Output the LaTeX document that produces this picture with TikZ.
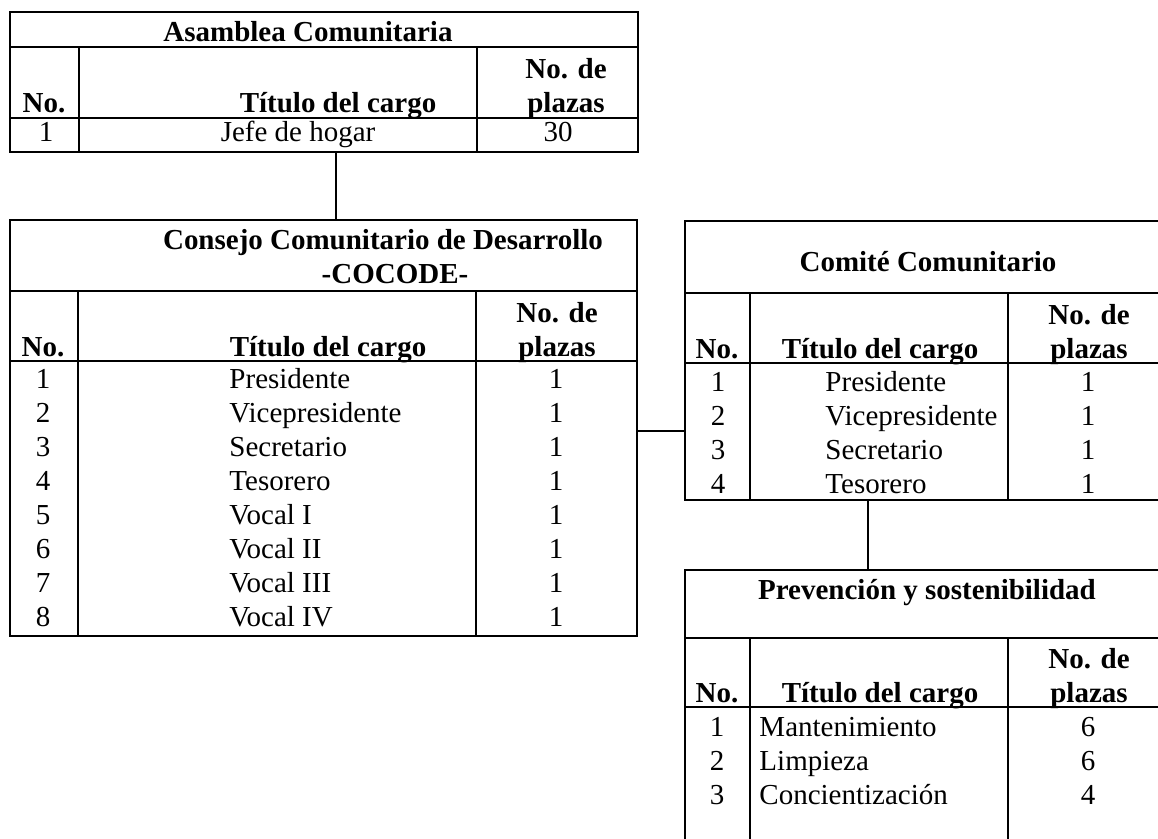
\documentclass[tikz,border=0pt]{standalone}
\usepackage{fontspec}
\setmainfont{Liberation Serif}

\begin{document}
\begin{tikzpicture}[x=0.414pt, y=-0.414pt,
  rule/.style={line width=0.8pt},
  link/.style={line width=0.8pt},
  hd/.style={font=\fontsize{12}{14}\selectfont\bfseries, inner sep=0pt, anchor=base},
  cell/.style={font=\fontsize{12}{14}\selectfont, inner sep=0pt, anchor=base},
  cellw/.style={cell, anchor=base west}]
\useasboundingbox (0,0) rectangle (1158,838);
\clip (0,0) rectangle (1158,838);

% Asamblea Comunitaria
\draw[rule] (10,12) rectangle (638,152);
\draw[rule] (10,47) -- (638,47) (10,118) -- (638,118);
\draw[rule] (79,47) -- (79,152) (477,47) -- (477,152);
\node[hd] (asam) at (308,41) {Asamblea Comunitaria};
\node[hd] (asam-no) at (44,112) {No.};
\node[hd] (asam-cargo) at (338,112) {Título del cargo};
\node[hd] (asam-pl1) at (566,78) {No. de};
\node[hd] (asam-pl2) at (566,112) {plazas};
\node[cell] (asam-n1) at (46,141) {1};
\node[cell] (asam-t1) at (298,141) {Jefe de hogar};
\node[cell] (asam-p1) at (558,141) {30};

% COCODE
\draw[rule] (10,220) rectangle (637,636);
\draw[rule] (10,291) -- (637,291) (10,361) -- (637,361);
\draw[rule] (78,291) -- (78,636) (476,291) -- (476,636);
\node[hd] (coc) at (383,249) {Consejo Comunitario de Desarrollo};
\node[hd] (coc-sub) at (395,283) {-COCODE-};
\node[hd] (coc-no) at (43,356) {No.};
\node[hd] (coc-cargo) at (328,356) {Título del cargo};
\node[hd] (coc-pl1) at (557,322) {No. de};
\node[hd] (coc-pl2) at (557,356) {plazas};
\foreach \t [count=\i] in {Presidente, Vicepresidente, Secretario, Tesorero, Vocal I, Vocal II, Vocal III, Vocal IV} {
  \node[cell] (coc-n\i) at (43,{388+34.1*(\i-1)}) {\i};
  \node[cellw] (coc-t\i) at (229,{388+34.1*(\i-1)}) {\t};
  \node[cell] (coc-p\i) at (556,{388+34.1*(\i-1)}) {1};
}

% Comite Comunitario
\draw[rule] (685,221) rectangle (1170,500);
\draw[rule] (685,293) -- (1170,293) (685,363) -- (1170,363);
\draw[rule] (750,293) -- (750,500) (1008,293) -- (1008,500);
\node[hd] (com) at (928,271) {Comité Comunitario};
\node[hd] (com-no) at (717,358) {No.};
\node[hd] (com-cargo) at (880,358) {Título del cargo};
\node[hd] (com-pl1) at (1089,324) {No. de};
\node[hd] (com-pl2) at (1089,358) {plazas};
\foreach \t [count=\i] in {Presidente, Vicepresidente, Secretario, Tesorero} {
  \node[cell] (com-n\i) at (718,{391+34*(\i-1)}) {\i};
  \node[cellw] (com-t\i) at (825,{391+34*(\i-1)}) {\t};
  \node[cell] (com-p\i) at (1088,{391+34*(\i-1)}) {1};
}

% Prevencion y sostenibilidad
\draw[rule] (685,570) rectangle (1170,850);
\draw[rule] (685,638) -- (1170,638) (685,707) -- (1170,707);
\draw[rule] (750,638) -- (750,850) (1008,638) -- (1008,850);
\node[hd] (prev) at (927,599) {Prevención y sostenibilidad};
\node[hd] (prev-no) at (717,702) {No.};
\node[hd] (prev-cargo) at (880,702) {Título del cargo};
\node[hd] (prev-pl1) at (1089,668) {No. de};
\node[hd] (prev-pl2) at (1089,702) {plazas};
\foreach \t/\p [count=\i] in {Mantenimiento/6, Limpieza/6, Concientización/4} {
  \node[cell] (prev-n\i) at (717,{736+34*(\i-1)}) {\i};
  \node[cellw] (prev-t\i) at (759,{736+34*(\i-1)}) {\t};
  \node[cell] (prev-p\i) at (1088,{736+34*(\i-1)}) {\p};
}

% links between the tables
\coordinate (asam-foot) at (336,152);
\coordinate (coc-head) at (336,220);
\coordinate (coc-side) at (637,431);
\coordinate (com-side) at (685,431);
\coordinate (com-foot) at (868,500);
\coordinate (prev-head) at (868,570);
\draw[link] (asam-foot) -- (coc-head);
\draw[link] (coc-side) -- (com-side);
\draw[link] (com-foot) -- (prev-head);
\end{tikzpicture}
\end{document}
